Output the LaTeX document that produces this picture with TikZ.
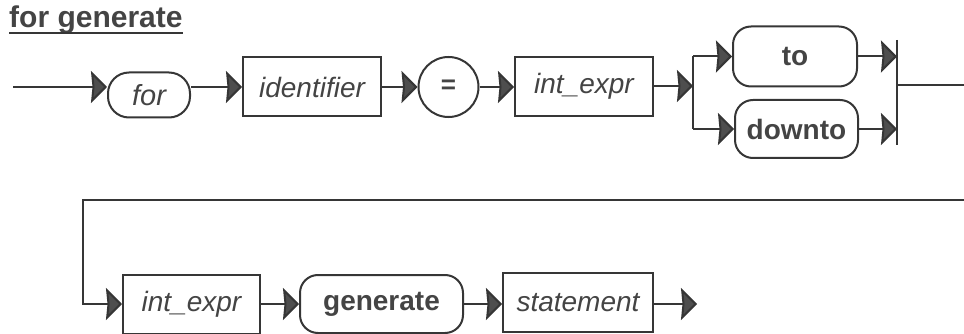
\documentclass[tikz,border=0pt]{standalone}
\usepackage{fontspec}
\setmainfont{Liberation Sans}
\usetikzlibrary{arrows.meta}
\definecolor{ink}{HTML}{363636}
\definecolor{txt}{HTML}{444444}
\definecolor{tipfill}{HTML}{4E4E4E}

\begin{document}
\begin{tikzpicture}[x=1pt,y=-1pt,
  wire/.style={draw=ink, line width=2pt},
  flow/.style={wire, -{Stealth[length=16pt,width=32pt,inset=1.5pt,fill=tipfill]}},
  nonterm/.style={draw=ink, line width=2pt, rectangle, minimum width=#1,
    minimum height=59pt, inner sep=0pt, text=txt,
    font=\fontsize{28}{30}\selectfont\itshape},
  keyword/.style={draw=ink, line width=2pt, rectangle, rounded corners=18pt,
    minimum height=58pt, inner sep=0pt, text=txt,
    font=\fontsize{28}{30}\selectfont\bfseries},
  heading/.style={text=txt, inner sep=0pt, font=\fontsize{30}{32}\selectfont\bfseries}
]
\useasboundingbox (0,0) rectangle (964,334);

% title
\node[heading, anchor=base west] (title) at (9,28) {for generate};
\draw[ink, line width=2.4pt] ([yshift=-5pt]title.base west) -- ([yshift=-5pt]title.base east);

% first row
\coordinate (start) at (13,87);
\node[keyword, rounded corners=21pt, minimum width=82pt, minimum height=45pt,
      font=\fontsize{29}{30}\selectfont\itshape] (for) at (149,95) {for};
\node[nonterm=138pt] (ident) at (312,87) {identifier};
\node[draw=ink, line width=2pt, circle, minimum size=60pt, inner sep=0pt, text=txt,
      font=\fontsize{26}{28}\selectfont\bfseries] (eq) at (448.5,87) {=};
\node[nonterm=138pt] (ie1) at (584,86.5) {int\_expr};

\draw[flow] (start) -- (for.west |- start);
\draw[flow] (for.east |- start) -- (ident.west |- start);
\draw[flow] (ident.east |- start) -- (eq.west |- start);
\draw[flow] (eq.east |- start) -- (ie1.west |- start);

% choice between to and downto
\node[keyword, minimum width=124pt, minimum height=60pt] (to) at (795,56.5) {to};
\node[keyword, minimum width=123pt] (downto) at (796.5,129) {downto};

\coordinate (split)  at (693,86);
\coordinate (splitT) at (693,56.5);
\coordinate (splitB) at (693,129);
\coordinate (joinT)  at (897,56.5);
\coordinate (joinB)  at (897,129);
\coordinate (joinTop) at (897,40);
\coordinate (joinBot) at (897,145);
\coordinate (join)   at (897,85);
\coordinate (exit)   at (964,85);

\draw[flow] (ie1.east |- split) -- (split);
\draw[wire] (splitT) -- (splitB);
\draw[flow] (splitT) -- (to.west);
\draw[flow] (splitB) -- (downto.west);
\draw[flow] (to.east) -- (joinT);
\draw[flow] (downto.east) -- (joinB);
\draw[wire] (joinTop) -- (joinBot);
\draw[wire] (join) -- (exit);

% second row
\node[nonterm=137pt] (ie2) at (191.5,304) {int\_expr};
\node[keyword, minimum width=163pt] (gen) at (381.5,304) {generate};
\node[nonterm=150pt] (stmt) at (578,302.5) {statement};

\coordinate (back) at (964,200);
\coordinate (bend) at (83,200);
\coordinate (fin)  at (697,304);

\draw[flow] (back) -- (bend) |- (ie2.west);
\draw[flow] (ie2.east) -- (gen.west |- ie2.east);
\draw[flow] (gen.east) -- (stmt.west |- gen.east);
\draw[flow] (stmt.east |- fin) -- (fin);
\end{tikzpicture}
\end{document}
